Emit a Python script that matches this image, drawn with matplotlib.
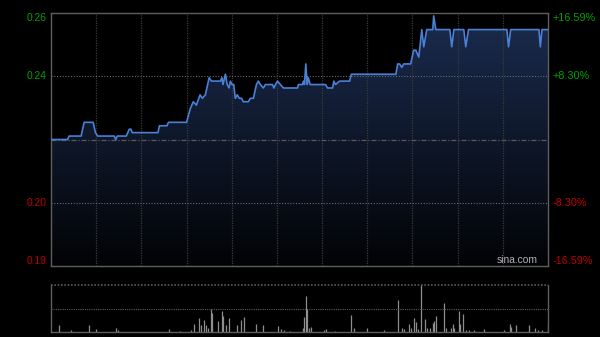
import matplotlib
matplotlib.use("Agg")
import matplotlib.pyplot as plt
import numpy as np
from matplotlib.colors import LinearSegmentedColormap
from matplotlib.transforms import blended_transform_factory

plt.rcParams['font.family'] = ['Liberation Sans', 'DejaVu Sans']

# previous close and intraday prices (minutes since 9:30, HK session 330 min)
prev_close = 0.222
minutes = [0, 11, 12, 20, 22, 28, 29.5, 31, 42, 43, 44, 50, 52, 53, 54, 71, 72, 77, 78, 90,
           92.5, 94.5, 96.5, 99, 100.5, 102.5, 104, 105, 106.5, 112.5, 113.5, 114.2, 115.8, 117,
           118.2, 119.1, 120.2, 121.3, 122.4, 123.7, 125, 126.5, 127.7, 131, 132.4, 134.4, 136.4,
           137.7, 139, 141, 142.4, 147, 148, 149, 150.4, 152.3, 154.3, 163.7, 164.3, 167, 167.6,
           168.3, 169.2, 170.1, 170.8, 172.1, 182.3, 183.6, 187, 187.8, 188.9, 191.6, 198.3, 199.4,
           229, 230.2, 231.5, 232.9, 234.2, 238.8, 240.8, 242.2, 244.2, 246.2, 247.5, 249.5, 253.5,
           254.1, 255.5, 264.8, 266.1, 267.5, 274.1, 275.4, 277.2, 302.7, 303.8, 305.2, 324, 324.9,
           326, 330]
prices = [0.222, 0.222, 0.223, 0.223, 0.227, 0.227, 0.224, 0.223, 0.223, 0.222, 0.223, 0.223,
          0.225, 0.225, 0.224, 0.224, 0.226, 0.226, 0.227, 0.227,
          0.231, 0.233, 0.232, 0.235, 0.234, 0.235, 0.238, 0.240, 0.239, 0.239, 0.240, 0.238,
          0.241, 0.238, 0.237, 0.239, 0.238, 0.238, 0.234, 0.235, 0.234, 0.234, 0.233, 0.233,
          0.234, 0.234, 0.238, 0.239, 0.238, 0.237, 0.238, 0.238, 0.237, 0.238, 0.239, 0.238,
          0.237, 0.237, 0.238, 0.238, 0.239, 0.238, 0.244, 0.238, 0.240, 0.238, 0.238, 0.237,
          0.237, 0.239, 0.238, 0.239, 0.239, 0.241,
          0.241, 0.244, 0.244, 0.243, 0.244, 0.244, 0.248, 0.248, 0.246, 0.254, 0.249, 0.254,
          0.254, 0.258, 0.254, 0.254, 0.249, 0.254, 0.254, 0.249, 0.254, 0.254, 0.249, 0.254,
          0.254, 0.249, 0.254, 0.254]

# volume spikes (minute, share of the day's biggest bar)
vol_minutes = [5.1, 13.1, 25.5, 29.9, 43, 44.6, 78.5, 85.8, 93.1, 94.7, 98, 99.8, 101.3, 103.1,
               104.3, 106.2, 107.1, 110.9, 113.6, 114.4, 116.4, 118.4, 123.5, 125.9, 128.4, 136.4,
               141, 150.8, 152.8, 155, 159, 167.2, 168.1, 169.2, 169.9, 171, 172.8, 181.2, 182.5,
               188.3, 199.1, 201.4, 209.6, 221.1, 230.4, 233.3, 234.4, 238, 239, 241, 242.6, 243.7,
               246, 248.2, 249.5, 251.5, 253.5, 254.6, 255.7, 261, 262.6, 265.5, 266.6, 267.5,
               270.6, 271.3, 273.6, 275.4, 277.4, 280.8, 287.4, 300.5, 304.5, 305.6, 308.7, 317.5,
               321.3, 323.5, 325.8, 330]
vol_share = [0.14, 0.05, 0.14, 0.06, 0.09, 0.04, 0.07, 0.03, 0.04, 0.165, 0.29, 0.14, 0.25, 0.14,
             0.09, 0.48, 0.41, 0.23, 0.44, 0.35, 0.14, 0.29, 0.14, 0.25, 0.31, 0.16,
             0.14, 0.12, 0.07, 0.05, 0.03, 0.09, 0.31, 0.76, 0.5, 0.09, 0.1, 0.05, 0.065,
             0.03, 0.37, 0.09, 0.08, 0.05, 0.68, 0.08, 0.065, 0.17, 0.09, 0.29, 0.21, 0.07,
             1.0, 0.27, 0.09, 0.09, 0.2, 0.23, 0.34, 0.62, 0.09, 0.09, 0.16, 0.09,
             0.45, 0.16, 0.39, 0.05, 0.05, 0.04, 0.07, 0.05, 0.16, 0.1, 0.14, 0.14,
             0.09, 0.05, 0.05, 0.2]

pct_levels = [0.1659, 0.083, -0.083, -0.1659]
price_labels = ["0.26", "0.24", "0.20", "0.19"]
pct_labels = ["+16.59%", "+8.30%", "-8.30%", "-16.59%"]
label_colors = ["#00a000", "#00a000", "#c00000", "#c00000"]

W, H = 600, 337
fig = plt.figure(figsize=(W / 100, H / 100), dpi=100, facecolor="black")
ax = fig.add_axes([51 / W, (H - 266) / H, 497 / W, 253 / H], facecolor="black")
axv = fig.add_axes([51 / W, (H - 332) / H, 497 / W, 47 / H], facecolor="black")

ymin = prev_close * (1 + pct_levels[-1])
ymax = prev_close * (1 + pct_levels[0])
ax.set_xlim(0, 330)
ax.set_ylim(ymin, ymax)

# gradient under the price line
cmap = LinearSegmentedColormap.from_list("fillgrad", ["#020305", "#1b2c4f"])
grad = np.linspace(0, 1, 256).reshape(-1, 1)
img = ax.imshow(grad, cmap=cmap, origin="lower", aspect="auto",
                extent=[0, 330, ymin, ymax], zorder=1)
poly = ax.fill_between(minutes, prices, ymin, color="none", lw=0)
img.set_clip_path(poly.get_paths()[0], transform=ax.transData)

# grid
for m in range(30, 330, 30):
    ax.axvline(m, color="#3a3a3a", lw=0.9, ls=(0, (1, 1)), zorder=2)
for p in [pct_levels[1], pct_levels[2]]:
    ax.axhline(prev_close * (1 + p), color="#6a6a6a", lw=0.8, ls=(0, (1, 1.5)), zorder=2)
ax.axhline(prev_close, color="#5a5a5a", lw=0.9, ls=(0, (4, 1.5, 1, 1.5)), zorder=2)

ax.plot(minutes, prices, color="#4a80d6", lw=1.2, zorder=3)

ax.set_xticks([])
ax.set_yticks([])
for s in ax.spines.values():
    s.set_color("#5e5e5e")
    s.set_linewidth(1.0)

# axis labels on both sides
left_tr = blended_transform_factory(ax.transAxes, ax.transData)
for i, p in enumerate(pct_levels):
    y = prev_close * (1 + p)
    va = "center"
    if i == 0:
        va = "top"
    elif i == len(pct_levels) - 1:
        va = "bottom"
    ax.text(-0.009, y, price_labels[i], transform=left_tr, ha="right", va=va,
            color=label_colors[i], fontsize=7.4)
    ax.text(1.01, y, pct_labels[i], transform=left_tr, ha="left", va=va,
            color=label_colors[i], fontsize=7.8)

ax.text(0.98, 0.005, "sina.com", transform=ax.transAxes, ha="right", va="bottom",
        color="#b0b0b0", fontsize=7.4)

# volume panel
axv.set_xlim(0, 330)
axv.set_ylim(0, 1.0)
axv.vlines(vol_minutes, 0, vol_share, color="#8e8e8e", lw=0.9)
axv.axhline(0.5, color="#5a5a5a", lw=0.8, ls=(0, (1, 1)))
axv.axhline(1.0, color="#5a5a5a", lw=1.2, ls=(0, (1, 1)), clip_on=False)
axv.set_xticks([])
axv.set_yticks([])
axv.spines["top"].set_visible(False)
for side in ["left", "right", "bottom"]:
    axv.spines[side].set_color("#5e5e5e")
    axv.spines[side].set_linewidth(1.0)

fig.savefig("out.png", dpi=100, facecolor="black")
